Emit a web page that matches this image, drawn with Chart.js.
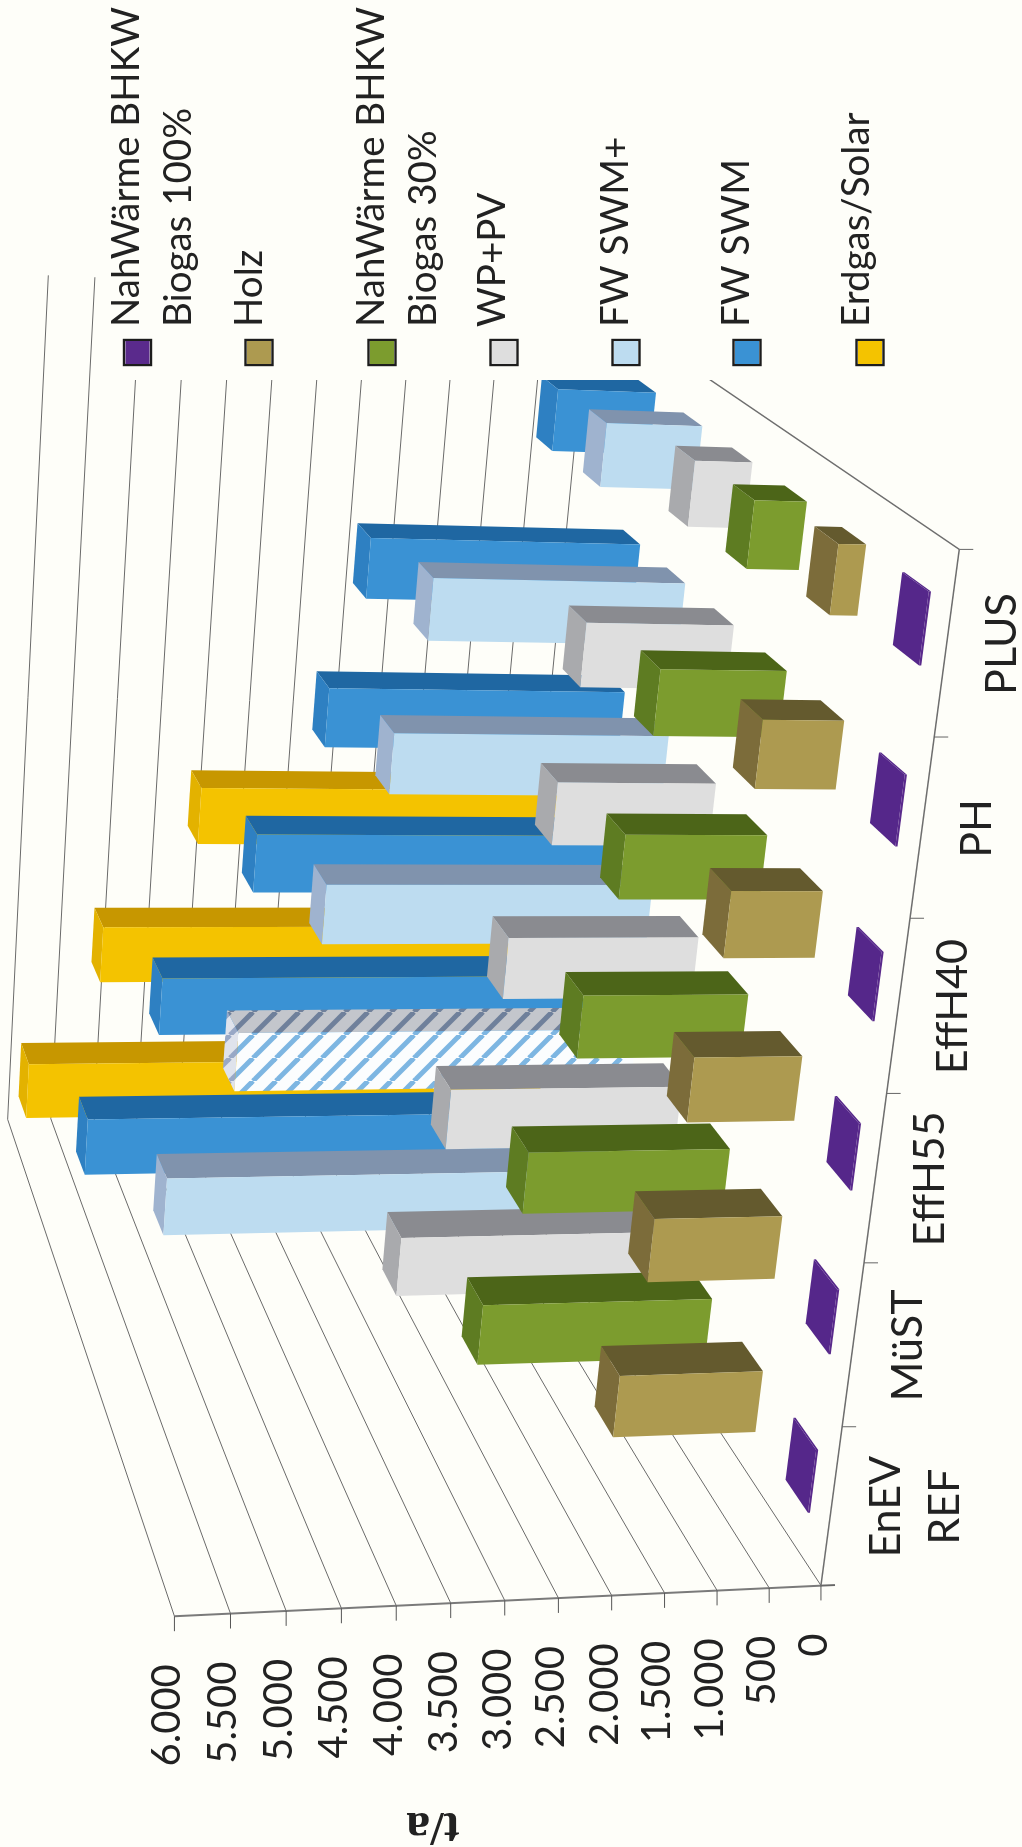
<!DOCTYPE html>
<html lang="de"><head><meta charset="utf-8"><title>t/a</title>
<style>html,body{margin:0;padding:0;background:#fefef9}canvas{display:block}</style>
<script src="https://cdn.jsdelivr.net/npm/chart.js@4"></script></head>
<body><canvas id="chart" width="1022" height="1847"></canvas>
<script>
// Emissions per year for each building standard and heat supply option.
const categories = [["EnEV","REF"],["MüST"],["EffH55"],["EffH40"],["PH"],["PLUS"]];
const seriesNames = ["NahWärme BHKW Biogas 100%","Holz","NahWärme BHKW Biogas 30%","WP+PV","FW SWM+","FW SWM","Erdgas/Solar"];
const biogas100 = [20,20,20,20,20,20];
const holz = [1430,1260,1050,880,770,260];
const biogas30 = [2360,2050,1660,1410,1240,510];
const wpPv = [2810,2430,1980,1630,1500,580];
const fwSwmPlus = [4950,4300,3490,2910,2640,1000];
const fwSwm = [5540,4820,3900,3240,2920,1060];
const erdgasSolar = [5960,5210,4210,null,null,null];
const valueTicks = {min:0,max:6000,stepSize:500};

// Face colours per series: front, side, end.
const faces = [
  ["#5a2a8c","#55278a","#55278a"],
  ["#ad9a50","#645a2e","#7c6c3a"],
  ["#7c9c2e","#4c6518","#5e7c22"],
  ["#dedede","#8a8b90","#a9aaad"],
  ["#bddcf0","#8093ad","#9fb3cf"],
  ["#3a92d4","#1f67a2","#2e80c2"],
  ["#f4c300","#c79700","#e3b200"]
];
const legendRows = [
  {swatch:137.5,lines:[["NahWärme BHKW",127],["Biogas 100%",179]]},
  {swatch:259,lines:[["Holz",250]]},
  {swatch:382,lines:[["NahWärme BHKW",372],["Biogas 30%",424]]},
  {swatch:504,lines:[["WP+PV",493]]},
  {swatch:626,lines:[["FW SWM+",616]]},
  {swatch:747,lines:[["FW SWM",737]]},
  {swatch:870,lines:[["Erdgas/Solar",857]]}
];

// Perspective camera fitted to the corners of the plot box (category, depth, value).
const anchors = [[0,0,0,820,1585],[1,0,0,958,550],[0,0,1,173,1616],[0,1,1,8,1120],
                 [1,1,1,49,275],[1,1,0,588,297],[.5,0,0,890,1094],[0,0,.5,505,1600]];
function fitCamera(){
  const rows=[],rhs=[];
  for(const [c,d,v,X,Y] of anchors){
    rows.push([c,d,v,1,0,0,0,0,-X*c,-X*d,-X*v]);rhs.push(X);
    rows.push([0,0,0,0,c,d,v,1,-Y*c,-Y*d,-Y*v]);rhs.push(Y);
  }
  const n=11,M=[];
  for(let i=0;i<n;i++){
    M[i]=[];
    for(let j=0;j<n;j++){let s=0;rows.forEach(r=>s+=r[i]*r[j]);M[i][j]=s;}
    let s=0;rows.forEach((r,k)=>s+=r[i]*rhs[k]);M[i][n]=s;
  }
  for(let i=0;i<n;i++){
    let m=i;
    for(let k=i+1;k<n;k++) if(Math.abs(M[k][i])>Math.abs(M[m][i])) m=k;
    [M[i],M[m]]=[M[m],M[i]];
    for(let k=0;k<n;k++) if(k!==i){const f=M[k][i]/M[i][i];for(let j=i;j<=n;j++)M[k][j]-=f*M[i][j];}
  }
  return M.map((r,i)=>r[n]/r[i]);
}
const cam = fitCamera();
const project = (c,d,v)=>{
  const w=cam[8]*c+cam[9]*d+cam[10]*v+1;
  return [(cam[0]*c+cam[1]*d+cam[2]*v+cam[3])/w,(cam[4]*c+cam[5]*d+cam[6]*v+cam[7])/w];
};
const frac = (scale,value)=>scale.getDecimalForPixel(scale.getPixelForValue(value));

// Diagonal stripe fill: one stripe per tile, rising to the right.
function hatch(ctx,bg,fg){
  const s=23,t=document.createElement('canvas');t.width=t.height=s;
  const g=t.getContext('2d');g.fillStyle=bg;g.fillRect(0,0,s,s);
  g.strokeStyle=fg;g.lineWidth=5;
  for(const o of [-s,0,s]){g.beginPath();g.moveTo(o,s);g.lineTo(o+s,0);g.stroke();}
  return ctx.createPattern(t,'repeat');
}
function poly(ctx,pts,fill){
  ctx.beginPath();pts.forEach((q,i)=>i?ctx.lineTo(q[0],q[1]):ctx.moveTo(q[0],q[1]));ctx.closePath();
  ctx.fillStyle=fill;ctx.fill();
}
function seg(ctx,a,b,col,w){ctx.strokeStyle=col;ctx.lineWidth=w;ctx.beginPath();ctx.moveTo(a[0],a[1]);ctx.lineTo(b[0],b[1]);ctx.stroke();}
function upText(ctx,text,x,y,align){
  ctx.save();ctx.translate(x,y);ctx.rotate(-Math.PI/2);ctx.textAlign=align;ctx.textBaseline='middle';
  ctx.fillText(text,0,0);ctx.restore();
}

const box3d = {
  id:'box3d',
  beforeDatasetsDraw(chart){
    const ctx=chart.ctx,{x,y,depth}=chart.scales;
    ctx.save();
    // Wall grid: one polyline per value tick, running along the side wall and the back wall.
    x.ticks.forEach(t=>{
      const v=frac(x,t.value);
      seg(ctx,project(0,0,v),project(0,1,v),'#6a6a6a',1);
      seg(ctx,project(0,1,v),project(1,1,v),'#6a6a6a',1);
    });
    // Floor edges.
    seg(ctx,project(1,0,0),project(1,1,0),'#6e6e6e',1.3);
    seg(ctx,project(0,0,0),project(1,0,0),'#6e6e6e',1.5);
    // Boxes, back row first so nearer rows overlap them.
    const half=0.2,dHalf=0.2;
    for(let i=chart.data.datasets.length-1;i>=0;i--){
      const ds=chart.data.datasets[i];
      ds.data.forEach((val,j)=>{
        if(val==null) return;
        const c0=frac(y,j-half),c1=frac(y,j+half),d0=frac(depth,i-dHalf),d1=frac(depth,i+dHalf),v=frac(x,val);
        let [front,side,end]=faces[i];
        if(ds.hatched&&ds.hatched[j]){
          front=hatch(ctx,'#fbfdfe','#7db6e2');side=hatch(ctx,'#c3c6cc','#6f809b');end=hatch(ctx,'#dfe3ec','#98a8c6');
        }
        poly(ctx,[project(c1,d0,0),project(c1,d1,0),project(c1,d1,v),project(c1,d0,v)],side);
        poly(ctx,[project(c0,d0,v),project(c1,d0,v),project(c1,d1,v),project(c0,d1,v)],end);
        poly(ctx,[project(c0,d0,0),project(c1,d0,0),project(c1,d0,v),project(c0,d0,v)],front);
      });
    }
    ctx.restore();
    return false;
  },
  afterDraw(chart){
    const ctx=chart.ctx,{x,y}=chart.scales;
    ctx.save();
    // Legend panel covers whatever reaches into its corner of the page.
    ctx.fillStyle='#fefef9';ctx.fillRect(105,0,917,380);
    ctx.font='38.5px Lato';
    legendRows.forEach((row,i)=>{
      ctx.strokeStyle='#1d1d1d';ctx.lineWidth=2.4;ctx.strokeRect(row.swatch-13.5,340,27,25);
      ctx.fillStyle=faces[i][0];ctx.fillRect(row.swatch-12,341,24,23);
      ctx.fillStyle='#222';
      row.lines.forEach(l=>upText(ctx,l[0],l[1],327,'left'));
    });
    // Value axis along the front edge of the side wall, with ticks and labels.
    seg(ctx,project(0,0,1),[835,1585],'#7a7a7a',2);
    ctx.font='40px Lato';
    x.ticks.forEach(t=>{
      const q=project(0,0,frac(x,t.value));
      seg(ctx,q,[q[0],q[1]+15],'#555',1);
      ctx.fillStyle='#222';
      upText(ctx,t.value.toLocaleString('de-DE'),q[0]-7,q[1]+48,'right');
    });
    // Category axis along the front edge of the floor.
    for(let j=0;j<=categories.length;j++){
      const q=project(frac(y,j-.5),0,0);
      seg(ctx,q,[q[0]+14,q[1]],'#666',1);
    }
    ctx.font='43px Lato';
    ctx.fillStyle='#222';
    categories.forEach((lines,j)=>{
      const q=project(frac(y,j),0,0);
      lines.forEach((l,k)=>upText(ctx,l,q[0]+55+k*59,q[1],'center'));
    });
    // Axis title.
    ctx.save();ctx.translate(433,1825);ctx.rotate(Math.PI);
    ctx.font='bold 48px "Liberation Serif"';ctx.textAlign='center';ctx.textBaseline='middle';ctx.fillStyle='#222';
    ctx.fillText('t/a',0,0);ctx.restore();
    ctx.restore();
  }
};

const dataSeries=[biogas100,holz,biogas30,wpPv,fwSwmPlus,fwSwm,erdgasSolar];
new Chart(document.getElementById('chart'),{
  type:'bar',
  plugins:[box3d],
  data:{
    labels:categories,
    datasets:seriesNames.map((name,i)=>({
      label:name,data:dataSeries[i],backgroundColor:faces[i][0],
      hatched:i===4?[false,true,false,false,false,false]:null
    }))
  },
  options:{
    indexAxis:'y',responsive:false,animation:false,devicePixelRatio:1,
    layout:{padding:0},
    plugins:{legend:{display:false},tooltip:{enabled:false}},
    scales:{
      x:{type:'linear',reverse:true,min:valueTicks.min,max:valueTicks.max,display:false,ticks:{stepSize:valueTicks.stepSize}},
      y:{type:'category',reverse:true,offset:true,display:false},
      depth:{type:'category',axis:'y',labels:seriesNames,offset:true,display:false}
    }
  }
});
</script></body></html>
